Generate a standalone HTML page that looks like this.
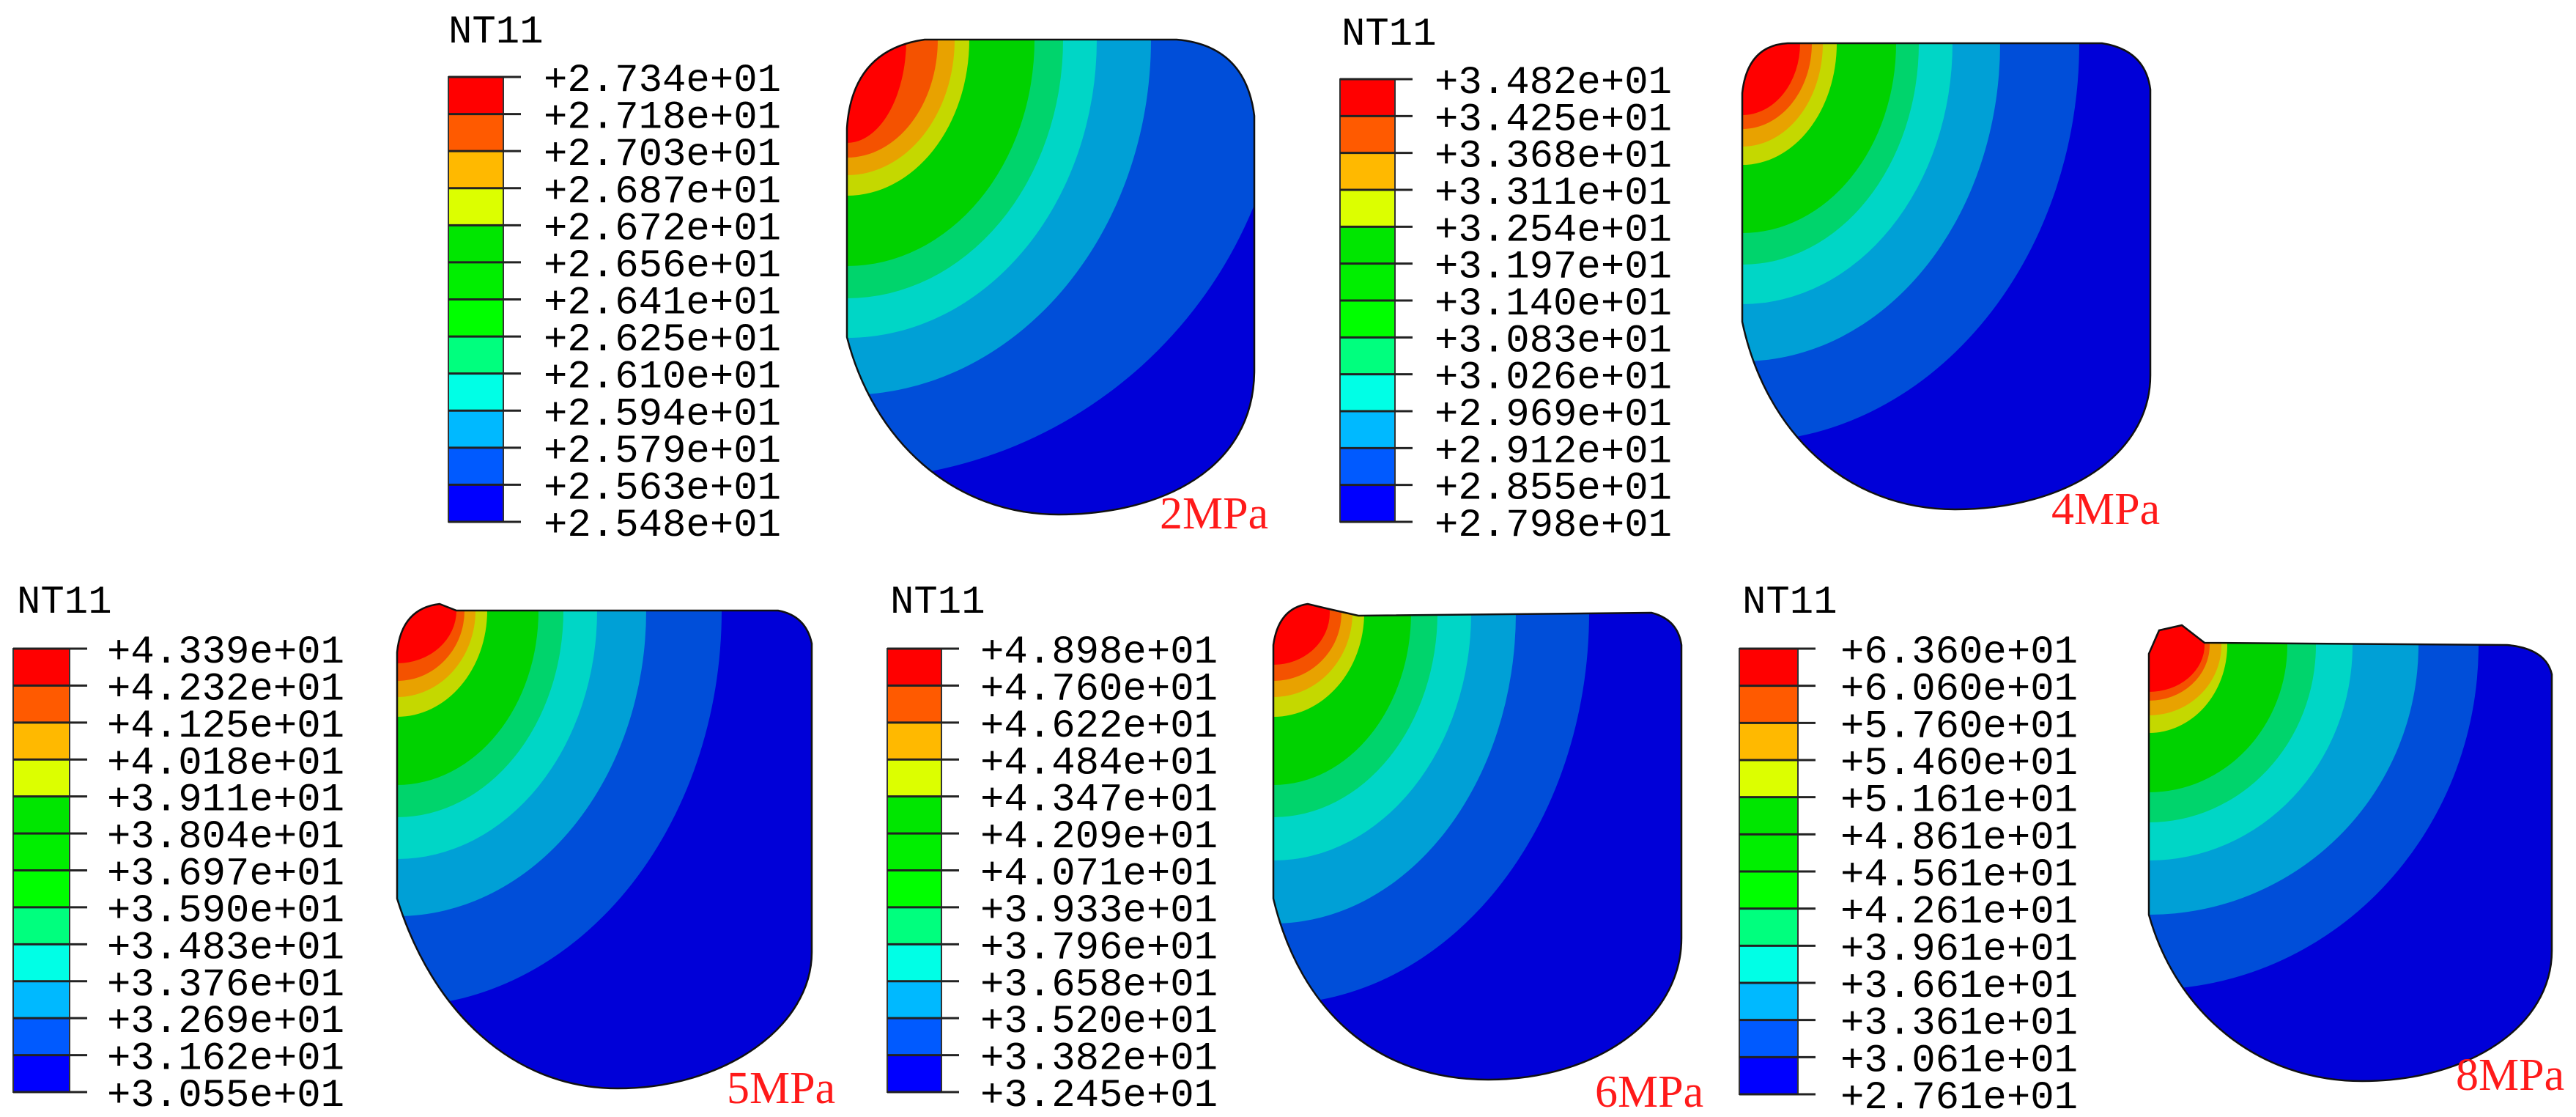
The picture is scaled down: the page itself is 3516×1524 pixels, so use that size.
<!DOCTYPE html>
<html><head><meta charset="utf-8">
<style>
html,body{margin:0;padding:0;background:#fff;overflow:hidden;width:3516px;height:1524px;}
svg{display:block;}
.lg{font-family:"Liberation Mono","DejaVu Sans Mono",monospace;font-size:54px;fill:#000;}
.mp{font-family:"Liberation Serif",serif;font-size:62px;fill:#ff1a1a;}
</style></head>
<body>
<svg id="fig" width="3516" height="1524" viewBox="0 0 3516 1524" xmlns="http://www.w3.org/2000/svg">
<defs id="defs"></defs>
</svg>
<script>
// ---- data ----
const pressures = ['2MPa','4MPa','5MPa','6MPa','8MPa'];
const legend1 = ['+2.734e+01','+2.718e+01','+2.703e+01','+2.687e+01','+2.672e+01','+2.656e+01','+2.641e+01','+2.625e+01','+2.610e+01','+2.594e+01','+2.579e+01','+2.563e+01','+2.548e+01'];
const legend2 = ['+3.482e+01','+3.425e+01','+3.368e+01','+3.311e+01','+3.254e+01','+3.197e+01','+3.140e+01','+3.083e+01','+3.026e+01','+2.969e+01','+2.912e+01','+2.855e+01','+2.798e+01'];
const legend3 = ['+4.339e+01','+4.232e+01','+4.125e+01','+4.018e+01','+3.911e+01','+3.804e+01','+3.697e+01','+3.590e+01','+3.483e+01','+3.376e+01','+3.269e+01','+3.162e+01','+3.055e+01'];
const legend4 = ['+4.898e+01','+4.760e+01','+4.622e+01','+4.484e+01','+4.347e+01','+4.209e+01','+4.071e+01','+3.933e+01','+3.796e+01','+3.658e+01','+3.520e+01','+3.382e+01','+3.245e+01'];
const legend5 = ['+6.360e+01','+6.060e+01','+5.760e+01','+5.460e+01','+5.161e+01','+4.861e+01','+4.561e+01','+4.261e+01','+3.961e+01','+3.661e+01','+3.361e+01','+3.061e+01','+2.761e+01'];
const legendColors = ['#ff0000','#ff5a00','#ffb900','#dcff00','#00e600','#00ef00','#00ff00','#00ff7e','#00ffe6','#00b9ff','#005aff','#0000ff'];
const bandColors = ['#ff0000','#f45200','#e8a200','#c4d800','#00d200','#00d46c','#00d6c6','#00a0d6','#004ed9','#0000d8'];
const bandRx1 = [81,124,147,167,256,295,341,415,600];
const bandRy1 = [141,161,185,213,309,353,407,485,600];
const bandRx2 = [79,95,110,129,210,241,287,352,460];
const bandRy2 = [98,117,141,166,259,302,356,434,544];
const bandRx3 = [81,92,107,123,193,227,273,340,443];
const bandRy3 = [72,96,118,145,238,282,339,417,540];
const bandRx4 = [77,93,108,124,188,224,270,331,431];
const bandRy4 = [71,93,115,142,235,279,338,424,534];
const bandRx5 = [76,83,99,107,189,228,278,368,450];
const bandRy5 = [64,76,96,120,201,242,294,368,470];

// ---- layout ----
const panels = [
 {leg:legend1, rx:bandRx1, ry:bandRy1, title:[612,58], box:[612,105,75,712], tx:742,
  c:[1156,54], lab:[1583,721],
  path:'M1156,460 L1156,175 Q1163,68 1262,54 L1606,54 Q1700,62 1712,158 L1712,505 C1712,640 1585,702 1445,702 C1300,702 1192,600 1156,460 Z'},
 {leg:legend2, rx:bandRx2, ry:bandRy2, title:[1831,61], box:[1829,108,75,712], tx:1958,
  c:[2378,59], lab:[2800,715],
  path:'M2378,439 L2378,127 Q2385,62 2440,59 L2869,59 Q2928,68 2935,122 L2935,512 C2935,620 2820,695 2669,695 C2520,695 2410,590 2378,439 Z'},
 {leg:legend3, rx:bandRx3, ry:bandRy3, title:[23,836], box:[18,885,77,1490], tx:146,
  c:[542,833], lab:[992,1505],
  path:'M542,1226 L542,890 Q548,830 600,824 L623,833 L1062,833 Q1100,840 1108,878 L1108,1299 C1108,1400 990,1485 843,1485 C700,1485 590,1380 542,1226 Z'},
 {leg:legend4, rx:bandRx4, ry:bandRy4, title:[1215,836], box:[1211,885,74,1490], tx:1338,
  c:[1738,836], lab:[2177,1510],
  path:'M1738,1226 L1738,880 Q1745,830 1785,824 L1810,830 L1854,840 L2254,836 Q2290,845 2295,880 L2295,1280 C2295,1390 2180,1473 2031,1473 C1880,1473 1775,1380 1738,1226 Z'},
 {leg:legend5, rx:bandRx5, ry:bandRy5, title:[2378,836], box:[2374,885,80,1493], tx:2512,
  c:[2933,880], lab:[3352,1487],
  path:'M2933,1248 L2933,892 L2947,860 L2978,853 L3009,877 L3422,880 Q3475,885 3483,920 L3483,1297 C3483,1400 3370,1475 3224,1475 C3080,1475 2970,1380 2933,1248 Z'}
];

const NS='http://www.w3.org/2000/svg';
const svg=document.getElementById('fig');
const defs=document.getElementById('defs');
function mk(tag, attrs, parent){
  const e=document.createElementNS(NS,tag);
  for(const k in attrs) e.setAttribute(k,attrs[k]);
  parent.appendChild(e);
  return e;
}

panels.forEach((p,pi)=>{
  const g=mk('g',{},svg);
  
  

  const t=mk('text',{x:p.title[0],y:p.title[1],class:'lg'},g);
  
  
  t.textContent='NT11';

  const [bx,by,bw,bb]=p.box;
  const rowH=(bb-by)/12;
  const yOf=i=>by+i*rowH;
  const lg=mk('g',{},g);
  
  
  legendColors.forEach((c,i)=>{
    const r=mk('rect',{x:bx,y:yOf(i),width:bw,height:rowH,fill:c},lg);
    
    
  });
  mk('rect',{x:bx,y:by,width:bw,height:bb-by,fill:'none',stroke:'#333','stroke-width':2},lg);
  p.leg.forEach((v,i)=>{
    const l=mk('line',{x1:bx,x2:bx+bw+24,y1:yOf(i),y2:yOf(i),stroke:'#222','stroke-width':3},lg);
    
    
    const tx=mk('text',{x:p.tx,y:yOf(i)+19,class:'lg'},lg);
    
    
    tx.textContent=v;
  });

  const cp=mk('clipPath',{id:'clip'+pi},defs);
  mk('path',{d:p.path},cp);
  const pg=mk('g',{'clip-path':'url(#clip'+pi+')'},g);
  
  
  mk('path',{d:p.path,fill:bandColors[9]},pg);
  for(let k=p.rx.length-1;k>=0;k--){
    const e=mk('ellipse',{cx:p.c[0],cy:p.c[1],rx:p.rx[k],ry:p.ry[k],fill:bandColors[k]},pg);
    
    
  }
  const o=mk('path',{d:p.path,fill:'none',stroke:'#111','stroke-width':2.5},g);
  
  

  const lab=mk('text',{x:p.lab[0],y:p.lab[1],class:'mp'},g);
  
  
  lab.textContent=pressures[pi];
});
</script>
</body></html>
